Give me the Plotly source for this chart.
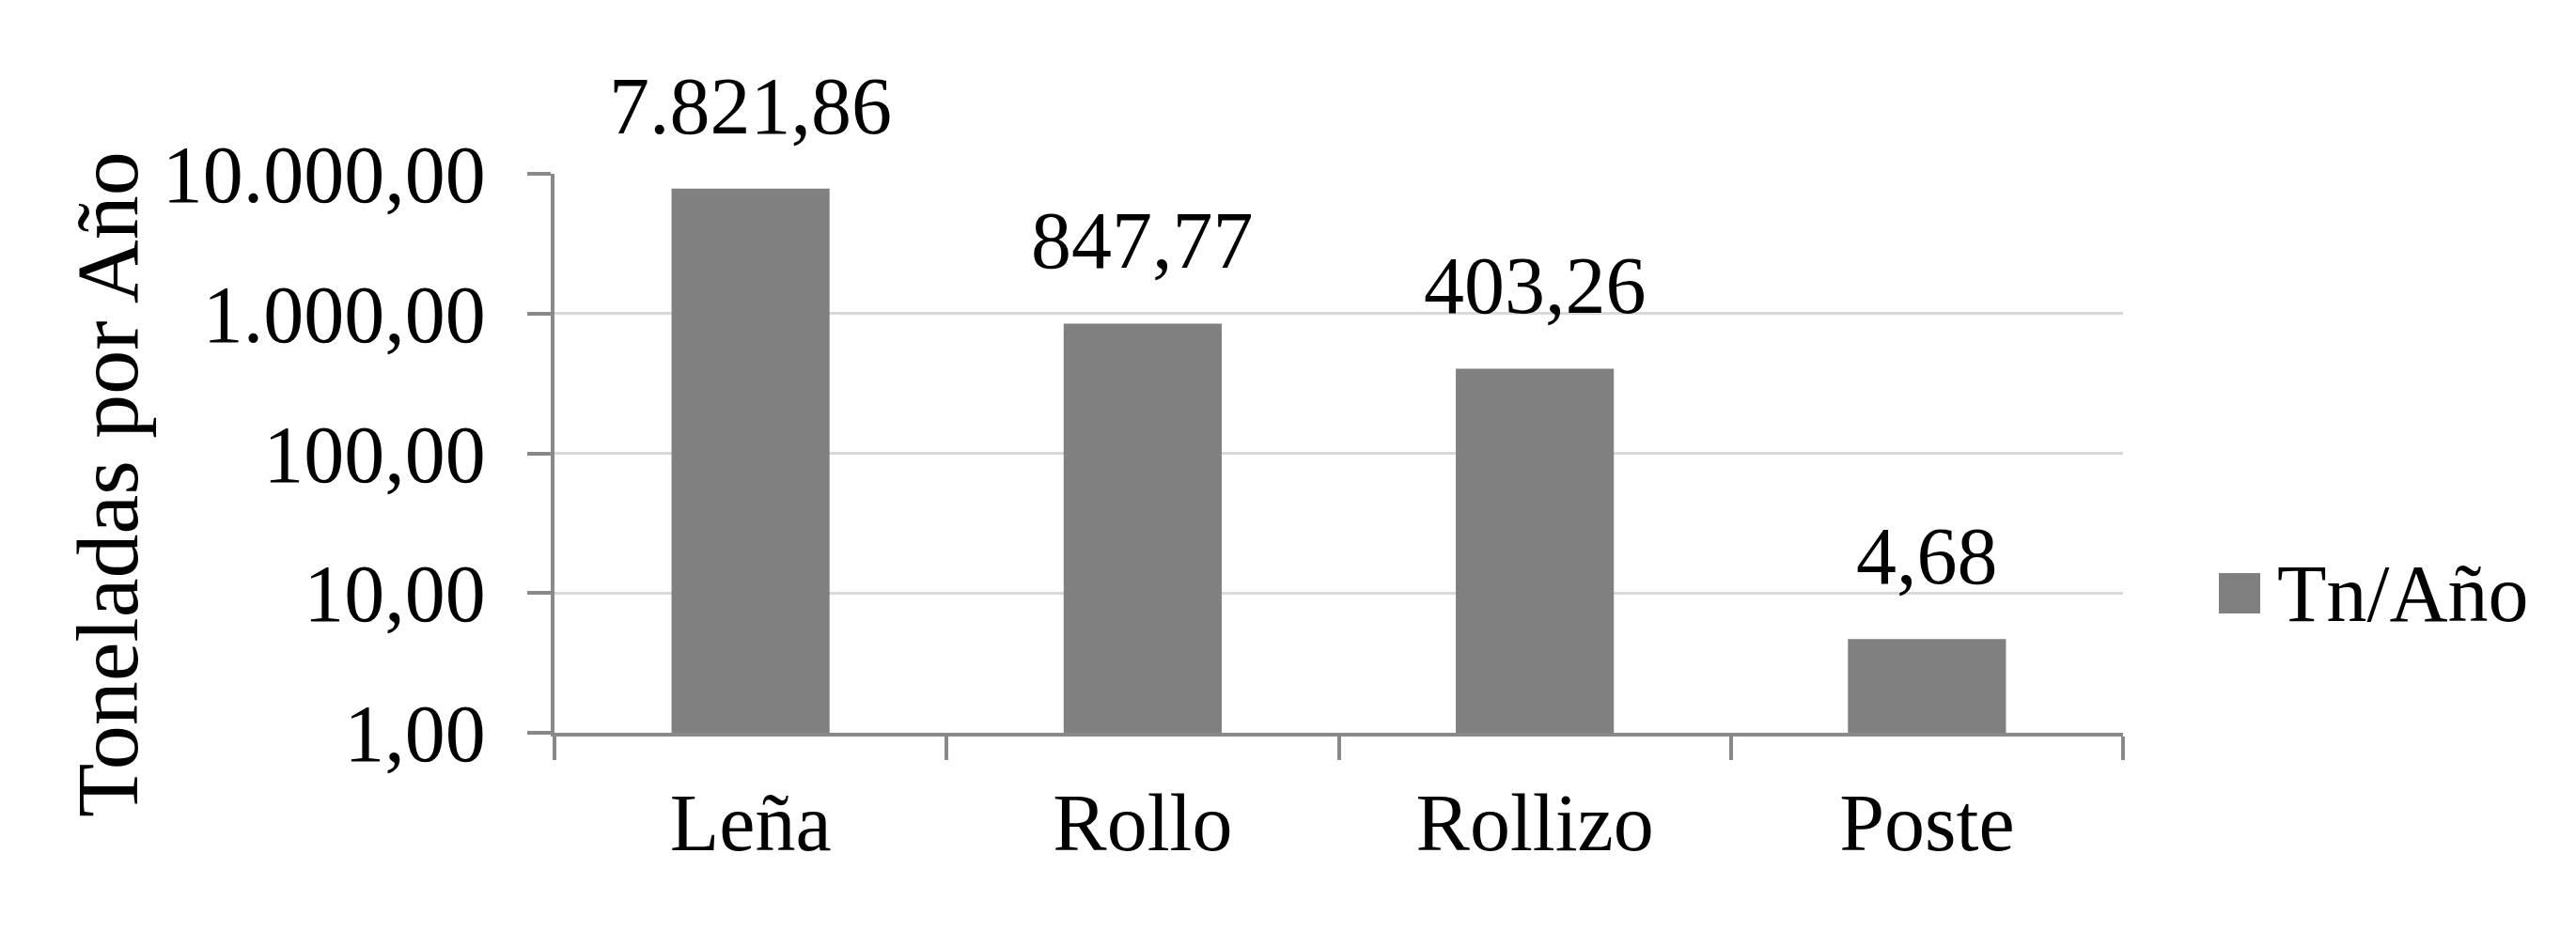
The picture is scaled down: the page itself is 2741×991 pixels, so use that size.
import math
import plotly.graph_objects as go

# datos
productos = ["Leña", "Rollo", "Rollizo", "Poste"]
toneladas = [7821.86, 847.77, 403.26, 4.68]
serie = "Tn/Año"
ticks_y = [1, 10, 100, 1000, 10000]
ticks_txt = ["1,00", "10,00", "100,00", "1.000,00", "10.000,00"]

GRIS = "#808080"
EJE = "#898989"
FUENTE = dict(family="Liberation Serif, Times New Roman, serif", size=86, color="black")

# area del grafico en pixeles
L, R, T, B = 582, 2251, 177, 772
W, H = R - L, B - T


def es_num(v):
    # 7821.86 -> 7.821,86
    return f"{v:,.2f}".replace(",", "X").replace(".", ",").replace("X", ".")


def px(x):
    return (x - L) / W


def py(y):
    return (B - y) / H


fig = go.Figure()
fig.add_trace(go.Bar(x=productos, y=toneladas, name=serie, width=0.403,
                     marker=dict(color=GRIS, line=dict(width=0)), showlegend=False))

# etiquetas de valor sobre las barras
for p, v in zip(productos, toneladas):
    fig.add_annotation(x=p, y=math.log10(v), text=es_num(v), showarrow=False,
                       xref="x", yref="y", yanchor="bottom", yshift=38, font=FUENTE)

# titulo del eje y
fig.add_annotation(x=px(106), y=py(508), xref="paper", yref="paper", text="Toneladas por Año",
                   textangle=-90, xanchor="center", yanchor="middle", showarrow=False,
                   font=dict(FUENTE, size=94))

# leyenda
fig.add_shape(type="rect", xref="paper", yref="paper",
              x0=px(2353), x1=px(2397), y0=py(645), y1=py(602),
              fillcolor=GRIS, line=dict(width=0))
fig.add_annotation(x=px(2413), y=py(624), xref="paper", yref="paper",
                   xanchor="left", yanchor="middle", text=serie, showarrow=False, font=FUENTE)

fig.update_layout(
    width=2741, height=991,
    margin=dict(l=L, r=2741 - R, t=T, b=991 - B),
    plot_bgcolor="white", paper_bgcolor="white",
    font=FUENTE,
)
fig.update_xaxes(type="category", range=[-0.5, 3.5], showline=True, linecolor=EJE, linewidth=4,
                 ticks="outside", tickson="boundaries", ticklen=25, tickwidth=4, tickcolor=EJE,
                 showgrid=False, tickfont=FUENTE, ticklabelstandoff=18)
fig.update_yaxes(type="log", range=[0, 4], tickvals=ticks_y, ticktext=ticks_txt,
                 showline=True, linecolor=EJE, linewidth=4, ticks="outside", ticklen=25,
                 tickwidth=4, tickcolor=EJE, gridcolor="#d9d9d9", gridwidth=3,
                 ticklabelstandoff=27, tickfont=FUENTE, zeroline=False)

fig.write_html("out.html")
